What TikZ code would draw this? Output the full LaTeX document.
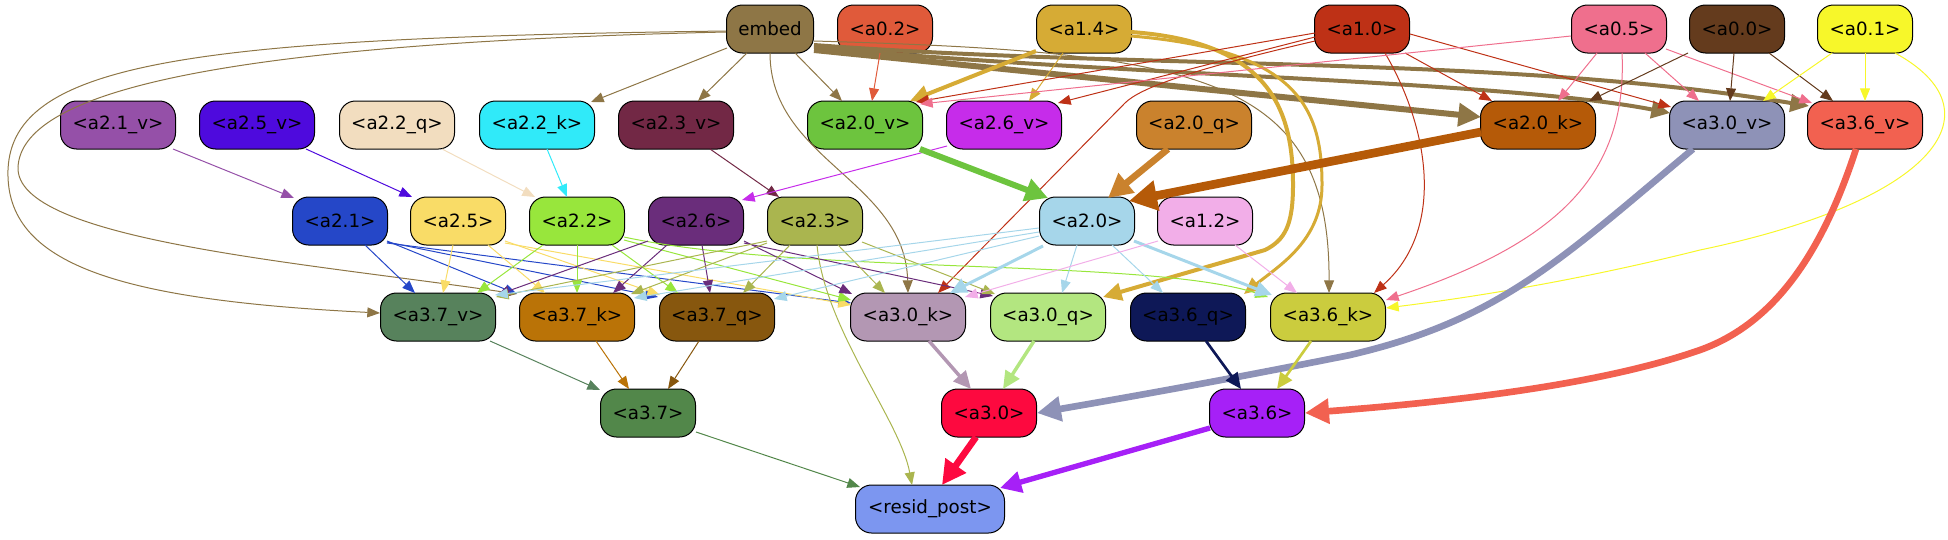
\documentclass[tikz,border=0pt]{standalone}
\usepackage{fontspec}
\setmainfont{DejaVu Sans}
\usetikzlibrary{arrows.meta,calc}
\definecolor{cEmb}{HTML}{8E7646}
\definecolor{cA02}{HTML}{E05A3A}
\definecolor{cA14}{HTML}{D6AB35}
\definecolor{cA10}{HTML}{BE3116}
\definecolor{cA05}{HTML}{EF6F8D}
\definecolor{cA00}{HTML}{643B1D}
\definecolor{cA01}{HTML}{F7F72A}
\definecolor{cV21}{HTML}{9550A8}
\definecolor{cV25}{HTML}{4E0ADD}
\definecolor{cQ22}{HTML}{F2DDBF}
\definecolor{cK22}{HTML}{30EAF9}
\definecolor{cV23}{HTML}{722845}
\definecolor{cV20}{HTML}{6DC43E}
\definecolor{cV26}{HTML}{C62CEA}
\definecolor{cQ20}{HTML}{CA822D}
\definecolor{cK20}{HTML}{B55A08}
\definecolor{cV30}{HTML}{8E92B7}
\definecolor{cV36}{HTML}{F26150}
\definecolor{cN21}{HTML}{2547C8}
\definecolor{cN25}{HTML}{F9DC67}
\definecolor{cN22}{HTML}{98E63C}
\definecolor{cN26}{HTML}{6A2D7B}
\definecolor{cN23}{HTML}{AAB54F}
\definecolor{cN20}{HTML}{A6D6EA}
\definecolor{cN12}{HTML}{F2AEE8}
\definecolor{cV37}{HTML}{57825C}
\definecolor{cK37}{HTML}{BA7307}
\definecolor{cQ37}{HTML}{87570E}
\definecolor{cK30}{HTML}{B397B3}
\definecolor{cQ30}{HTML}{B3E680}
\definecolor{cQ36}{HTML}{0E1857}
\definecolor{cK36}{HTML}{CBCC3E}
\definecolor{cN37}{HTML}{52874A}
\definecolor{cN30}{HTML}{FD093F}
\definecolor{cN36}{HTML}{A620F7}
\definecolor{cRes}{HTML}{7C96F0}
\begin{document}
\begin{tikzpicture}[x=0.75pt,y=-0.75pt,
  nd/.style={draw=black,line width=0.75pt,rounded corners=12pt,minimum height=36pt,inner sep=0pt,font=\fontsize{13.7}{16}\selectfont},
  nshort/.style={nd,minimum width=71.25pt},
  nlong/.style={nd,minimum width=86.25pt},
  ed/.style={-{Triangle[length=8pt 2,width=5.6pt 2.5]},line width=0.75pt},
]
\useasboundingbox (0,0) rectangle (1948,539);
% row 1
\node[nd,minimum width=65.25pt,fill=cEmb] (emb) at (770,29) {embed};
\node[nshort,fill=cA02] (a02) at (885,29) {<a0.2>};
\node[nshort,fill=cA14] (a14) at (1084,29) {<a1.4>};
\node[nshort,fill=cA10] (a10) at (1362,29) {<a1.0>};
\node[nshort,fill=cA05] (a05) at (1619,29) {<a0.5>};
\node[nshort,fill=cA00] (a00) at (1737,29) {<a0.0>};
\node[nshort,fill=cA01] (a01) at (1865,29) {<a0.1>};
% row 2
\node[nlong,fill=cV21] (v21) at (118,125) {<a2.1\_v>};
\node[nlong,fill=cV25] (v25) at (257,125) {<a2.5\_v>};
\node[nlong,fill=cQ22] (q22) at (397,125) {<a2.2\_q>};
\node[nlong,fill=cK22] (k22) at (537,125) {<a2.2\_k>};
\node[nlong,fill=cV23] (v23) at (676,125) {<a2.3\_v>};
\node[nlong,fill=cV20] (v20) at (865,125) {<a2.0\_v>};
\node[nlong,fill=cV26] (v26) at (1004,125) {<a2.6\_v>};
\node[nlong,fill=cQ20] (q20) at (1194,125) {<a2.0\_q>};
\node[nlong,fill=cK20] (k20) at (1538,125) {<a2.0\_k>};
\node[nlong,fill=cV30] (v30) at (1727,125) {<a3.0\_v>};
\node[nlong,fill=cV36] (v36) at (1865,125) {<a3.6\_v>};
% row 3
\node[nshort,fill=cN21] (n21) at (340,221) {<a2.1>};
\node[nshort,fill=cN25] (n25) at (458,221) {<a2.5>};
\node[nshort,fill=cN22] (n22) at (577,221) {<a2.2>};
\node[nshort,fill=cN26] (n26) at (696,221) {<a2.6>};
\node[nshort,fill=cN23] (n23) at (815,221) {<a2.3>};
\node[nshort,fill=cN20] (n20) at (1087,221) {<a2.0>};
\node[nshort,fill=cN12] (n12) at (1205,221) {<a1.2>};
% row 4
\node[nlong,fill=cV37] (v37) at (438,317) {<a3.7\_v>};
\node[nlong,fill=cK37] (k37) at (577,317) {<a3.7\_k>};
\node[nlong,fill=cQ37] (q37) at (717,317) {<a3.7\_q>};
\node[nlong,fill=cK30] (k30) at (908,317) {<a3.0\_k>};
\node[nlong,fill=cQ30] (q30) at (1048,317) {<a3.0\_q>};
\node[nlong,fill=cQ36] (q36) at (1188,317) {<a3.6\_q>};
\node[nlong,fill=cK36] (k36) at (1328,317) {<a3.6\_k>};
% row 5
\node[nshort,fill=cN37] (n37) at (648,413) {<a3.7>};
\node[nshort,fill=cN30] (n30) at (989,413) {<a3.0>};
\node[nshort,fill=cN36] (n36) at (1257,413) {<a3.6>};
% row 6
\node[nd,minimum width=111.75pt,fill=cRes] (res) at (930,509) {<resid\_post>};

% embed edges
\draw[ed,cEmb] ($(emb)+(-43,19)$) -- ($(k22)+(54,-23)$);
\draw[ed,cEmb] ($(emb)+(-23,24)$) -- ($(v23)+(22,-24)$);
\draw[ed,cEmb] ($(emb)+(25,24)$) -- ($(v20)+(-23,-24)$);
\draw[ed,cEmb] ($(emb)+(0,24)$) .. controls (770,160) and (905,180) .. ($(k30)+(0,-24)$);
\draw[ed,cEmb,line width=4.5pt] ($(emb)+(44,21)$) -- ($(k20)+(-57,-8)$);
\draw[ed,cEmb,line width=3pt] ($(emb)+(44,18)$) .. controls (1100,75) and (1500,80) .. ($(v30)+(-57,-12)$);
\draw[ed,cEmb,line width=3pt] ($(emb)+(44,16)$) .. controls (1150,70) and (1500,55) .. ($(v36)+(-56,-19)$);
\draw[ed,cEmb] ($(emb)+(44,12)$) .. controls (1200,52) and (1330,75) .. ($(k36)+(1,-24)$);
\draw[ed,cEmb] ($(emb)+(-44,2)$) .. controls (200,38) and (12,60) .. (8,170) .. controls (5,265) and (120,300) .. ($(v37)+(-58,-4)$);
\draw[ed,cEmb] ($(emb)+(-44,3)$) .. controls (200,44) and (22,95) .. (18,167) .. controls (15,240) and (300,262) .. ($(k37)+(-60,-23)$);
% a0.2
\draw[ed,cA02] ($(a02)+(-5,24)$) -- ($(v20)+(7,-24)$);
% a1.4
\draw[ed,cA14,line width=3pt] ($(a14)+(-48,22)$) -- ($(v20)+(45,-24)$);
\draw[ed,cA14] ($(a14)+(-21,24)$) -- ($(v26)+(25,-24)$);
\draw[ed,cA14,line width=3pt] ($(a14)+(47,3)$) .. controls (1270,42) and (1293,110) .. (1293,185) .. controls (1293,225) and (1285,240) .. (1265,250) -- ($(q30)+(55,-20)$);
\draw[ed,cA14,line width=2.25pt] ($(a14)+(47,7)$) .. controls (1300,50) and (1322,110) .. (1322,185) .. controls (1322,240) and (1280,265) .. ($(q36)+(56,-23)$);
% a1.0
\draw[ed,cA10] ($(a10)+(-47,4)$) -- ($(v20)+(51,-23)$);
\draw[ed,cA10] ($(a10)+(-47,8)$) -- ($(v26)+(54,-22)$);
\draw[ed,cA10] ($(a10)+(-47,12)$) .. controls (1190,70) and (1140,88) .. (1125,103) -- ($(k30)+(30,-24)$);
\draw[ed,cA10] ($(a10)+(43,24)$) -- ($(k20)+(-46,-24)$);
\draw[ed,cA10] ($(a10)+(48,5)$) -- ($(v30)+(-56,-18)$);
\draw[ed,cA10] ($(a10)+(23,24)$) .. controls (1430,130) and (1445,230) .. ($(k36)+(46,-24)$);
% a0.5
\draw[ed,cA05] ($(a05)+(-48,7)$) -- ($(v20)+(55,-21)$);
\draw[ed,cA05] ($(a05)+(-22,24)$) -- ($(k20)+(20,-24)$);
\draw[ed,cA05] ($(a05)+(26,24)$) -- ($(v30)+(-28,-24)$);
\draw[ed,cA05] ($(a05)+(47,20)$) -- ($(v36)+(-53,-22)$);
\draw[ed,cA05] ($(a05)+(3,24)$) .. controls (1628,180) and (1550,245) .. ($(k36)+(58,-17)$);
% a0.0
\draw[ed,cA00] ($(a00)+(-49,24)$) -- ($(k20)+(51,-24)$);
\draw[ed,cA00] ($(a00)+(-3,24)$) -- ($(v30)+(3,-24)$);
\draw[ed,cA00] ($(a00)+(32,24)$) -- ($(v36)+(-32,-24)$);
% a0.1
\draw[ed,cA01] ($(a01)+(-33,24)$) -- ($(v30)+(36,-24)$);
\draw[ed,cA01] ($(a01)+(0,24)$) -- ($(v36)+(0,-24)$);
\draw[ed,cA01] ($(a01)+(30,24)$) .. controls (2000,110) and (1940,200) .. (1700,250) .. controls (1560,285) and (1450,300) .. ($(k36)+(58,-9)$);
% row 2 -> row 3
\draw[ed,cV21] ($(v21)+(55,24)$) -- ($(n21)+(-46,-23)$);
\draw[ed,cV25] ($(v25)+(49,24)$) -- ($(n25)+(-46,-24)$);
\draw[ed,cQ22] ($(q22)+(45,24)$) -- ($(n22)+(-42,-24)$);
\draw[ed,cK22] ($(k22)+(10,24)$) -- ($(n22)+(-10,-24)$);
\draw[ed,cV23] ($(v23)+(34,24)$) -- ($(n23)+(-36,-24)$);
\draw[ed,cV26] ($(v26)+(-57,21)$) -- ($(n26)+(46,-21)$);
\draw[ed,cV20,line width=4.5pt] ($(v20)+(55,24)$) -- ($(n20)+(-39,-23)$);
\draw[ed,cQ20,line width=5pt] ($(q20)+(-26,24)$) -- ($(n20)+(21,-23)$);
\draw[ed,cK20,line width=6.5pt] ($(k20)+(-57,7)$) -- ($(n20)+(42,-20)$);
% a2.1
\draw[ed,cN21] ($(n21)+(25,24)$) -- ($(v37)+(-23,-24)$);
\draw[ed,cN21] ($(n21)+(47,20)$) -- ($(k37)+(-60,-23)$);
\draw[ed,cN21] ($(n21)+(47,21)$) -- ($(q37)+(-59,-20)$);
\draw[ed,cN21] ($(n21)+(47,22)$) -- ($(k30)+(-57,-14)$);
% a2.5
\draw[ed,cN25] ($(n25)+(-5,24)$) -- ($(v37)+(5,-24)$);
\draw[ed,cN25] ($(n25)+(30,24)$) -- ($(k37)+(-32,-24)$);
\draw[ed,cN25] ($(n25)+(47,20)$) -- ($(q37)+(-57,-22)$);
\draw[ed,cN25] ($(n25)+(47,22)$) -- ($(k30)+(-57,-12)$);
% a2.2
\draw[ed,cN22] ($(n22)+(-34,24)$) -- ($(v37)+(39,-24)$);
\draw[ed,cN22] ($(n22)+(0,24)$) -- ($(k37)+(0,-24)$);
\draw[ed,cN22] ($(n22)+(35,24)$) -- ($(q37)+(-39,-24)$);
\draw[ed,cN22] ($(n22)+(47,19)$) -- ($(k30)+(-57,-17)$);
\draw[ed,cN22] ($(n22)+(47,16)$) .. controls (800,275) and (1150,258) .. ($(k36)+(-60,-20)$);
% a2.6
\draw[ed,cN26] ($(n26)+(-48,20)$) -- ($(v37)+(59,-22)$);
\draw[ed,cN26] ($(n26)+(-29,24)$) -- ($(k37)+(36,-24)$);
\draw[ed,cN26] ($(n26)+(6,24)$) -- ($(q37)+(-7,-24)$);
\draw[ed,cN26] ($(n26)+(48,20)$) -- ($(k30)+(-56,-23)$);
\draw[ed,cN26] ($(n26)+(48,22)$) -- ($(q30)+(-55,-21)$);
% a2.3
\draw[ed,cN23] ($(n23)+(-48,20)$) -- ($(v37)+(58,-20)$);
\draw[ed,cN23] ($(n23)+(-48,22)$) -- ($(k37)+(54,-23)$);
\draw[ed,cN23] ($(n23)+(-25,24)$) -- ($(q37)+(26,-24)$);
\draw[ed,cN23] ($(n23)+(23,24)$) -- ($(k30)+(-23,-24)$);
\draw[ed,cN23] ($(n23)+(47,21)$) -- ($(q30)+(-53,-23)$);
\draw[ed,cN23] ($(n23)+(2,24)$) .. controls (825,330) and (900,420) .. ($(res)+(-18,-24)$);
% a2.0
\draw[ed,cN20] ($(n20)+(-48,7)$) -- ($(v37)+(57,-22)$);
\draw[ed,cN20] ($(n20)+(-48,11)$) -- ($(k37)+(57,-19)$);
\draw[ed,cN20] ($(n20)+(-48,15)$) -- ($(q37)+(57,-18)$);
\draw[ed,cN20,line width=2.25pt] ($(n20)+(-44,25)$) -- ($(k30)+(42,-24)$);
\draw[ed,cN20] ($(n20)+(-10,24)$) -- ($(q30)+(14,-24)$);
\draw[ed,cN20] ($(n20)+(25,24)$) -- ($(q36)+(-25,-24)$);
\draw[ed,cN20,line width=2.25pt] ($(n20)+(47,20)$) -- ($(k36)+(-56,-22)$);
% a1.2
\draw[ed,cN12] ($(n12)+(-47,20)$) -- ($(k30)+(57,-20)$);
\draw[ed,cN12] ($(n12)+(30,24)$) -- ($(k36)+(-31,-24)$);
% row 4 -> row 5
\draw[ed,cV37] ($(v37)+(52,24)$) -- ($(n37)+(-48,-23)$);
\draw[ed,cK37] ($(k37)+(19,24)$) -- ($(n37)+(-19,-24)$);
\draw[ed,cQ37] ($(q37)+(-18,24)$) -- ($(n37)+(20,-24)$);
\draw[ed,cK30,line width=2.6pt] ($(k30)+(21,24)$) -- ($(n30)+(-18,-24)$);
\draw[ed,cQ30,line width=2.6pt] ($(q30)+(-14,24)$) -- ($(n30)+(14,-24)$);
\draw[ed,cV30,line width=5pt] ($(v30)+(-34,24)$) .. controls (1560,260) and (1500,320) .. (1350,355) .. controls (1200,385) and (1100,402) .. ($(n30)+(48,0)$);
\draw[ed,cQ36,line width=2pt] ($(q36)+(18,24)$) -- ($(n36)+(-16,-24)$);
\draw[ed,cK36,line width=2pt] ($(k36)+(-17,24)$) -- ($(n36)+(20,-24)$);
\draw[ed,cV36,line width=5pt] ($(v36)+(-9,24)$) .. controls (1820,260) and (1770,325) .. (1700,350) .. controls (1600,385) and (1450,402) .. ($(n36)+(48,0)$);
% row 5 -> resid_post
\draw[ed,cN37] ($(n37)+(48,19)$) -- ($(res)+(-70,-22)$);
\draw[ed,cN30,line width=5pt] ($(n30)+(-13,24)$) -- ($(res)+(12,-24)$);
\draw[ed,cN36,line width=4pt] ($(n36)+(-47,15)$) -- ($(res)+(70,-21)$);
\end{tikzpicture}
\end{document}
